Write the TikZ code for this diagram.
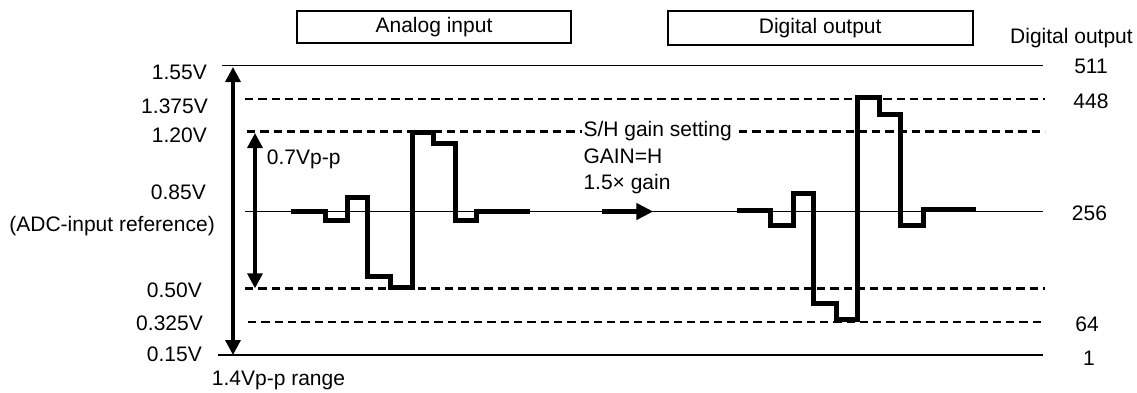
\documentclass[tikz,border=0pt]{standalone}
\usepackage{fontspec}
\setmainfont{Liberation Sans}
\usetikzlibrary{arrows.meta}
\begin{document}
\begin{tikzpicture}[x=1pt,y=-1pt,
  lbl/.style={font=\fontsize{21}{24}\selectfont, inner sep=0pt},
  solidline/.style={line width=1.5pt},
  refline/.style={line width=1.1pt},
  dashline/.style={line width=2.6pt, dash pattern=on 8.3pt off 5pt},
  wave/.style={line width=5pt, line join=miter, line cap=butt},
  dblarrow/.style={line width=3.3pt, {Triangle[width=15pt,length=15pt]}-{Triangle[width=15pt,length=15pt]}},
  gainarrow/.style={line width=4.8pt, -{Triangle[width=16pt,length=17pt]}},
  titlebox/.style={draw, line width=2.2pt, font=\fontsize{21}{24}\selectfont, inner sep=0pt}
]
\useasboundingbox (0,0) rectangle (1137,392);

% title boxes
\node[titlebox, minimum width=274pt, minimum height=32.6pt] (analog) at (434,27) {Analog input};
\node[titlebox, minimum width=305pt, minimum height=34pt] (digital) at (820.2,28) {Digital output};
\node[lbl, anchor=base west] (dighdr) at (1010,43.3) {Digital output};

% level lines
\coordinate (a155) at (222,65.5);  \coordinate (b155) at (1043,65.5);
\coordinate (a1375) at (245,99);   \coordinate (b1375) at (1045,99);
\coordinate (a120) at (247,131.7); \coordinate (b120) at (1045,131.7);
\coordinate (a085) at (245,211.5); \coordinate (b085) at (1043,211.5);
\coordinate (a050) at (245,288.3); \coordinate (b050) at (1045,288.3);
\coordinate (a0325) at (248,322);  \coordinate (b0325) at (1045,322);
\coordinate (a015) at (218,355);   \coordinate (b015) at (1043,355);

\draw[solidline] (a155) -- (b155);
\draw[dashline] (a1375) -- (b1375);
\draw[dashline] (a120) -- (b120);
\draw[refline] (a085) -- (b085);
\draw[dashline] (a050) -- (b050);
\draw[dashline] (a0325) -- (b0325);
\draw[solidline] (a015) -- (b015);

% left labels
\node[lbl, anchor=base east] (v155) at (207,79.3) {1.55V};
\node[lbl, anchor=base east] (v1375) at (208,113.3) {1.375V};
\node[lbl, anchor=base east] (v120) at (207,142.3) {1.20V};
\node[lbl, anchor=base east] (v085) at (206,199.3) {0.85V};
\node[lbl, anchor=base east] (vref) at (215,231.3) {(ADC-input reference)};
\node[lbl, anchor=base east] (v050) at (202,297.3) {0.50V};
\node[lbl, anchor=base east] (v0325) at (203,330) {0.325V};
\node[lbl, anchor=base east] (v015) at (202,361.7) {0.15V};
\node[lbl, anchor=base west] (range) at (211.7,385) {1.4Vp-p range};

% right labels
\node[lbl, anchor=base] (d511) at (1091,73.3) {511};
\node[lbl, anchor=base] (d448) at (1091,108.3) {448};
\node[lbl, anchor=base] (d256) at (1089.5,220) {256};
\node[lbl, anchor=base] (d64) at (1087,331.7) {64};
\node[lbl, anchor=base] (d1) at (1089,365) {1};

% range arrows
\coordinate (bigtop) at (233,67);  \coordinate (bigbot) at (233,355);
\coordinate (smtop) at (255,133);  \coordinate (smbot) at (255,288.3);
\draw[dblarrow] (bigtop) -- (bigbot);
\draw[dblarrow] (smtop) -- (smbot);
\node[lbl, anchor=base west] (vpp) at (266.7,164) {0.7Vp-p};

% gain text and arrow
\node[lbl, fill=white, inner sep=2pt, anchor=base west] (sh) at (581.3,136.7) {S/H gain setting};
\node[lbl, anchor=base west] (gainh) at (583.3,163.3) {GAIN=H};
\node[lbl, anchor=base west] (gainx) at (583.3,189.3) {1.5× gain};
\coordinate (ga) at (601.7,211.5); \coordinate (gb) at (653.3,211.5);
\draw[gainarrow] (ga) -- (gb);

% analog waveform
\draw[wave] (290.7,211) -- (325.7,211) -- (325.7,220.7) -- (347.7,220.7) -- (347.7,197.7)
  -- (367.7,197.7) -- (367.7,276.7) -- (390,276.7) -- (390,287.7) -- (412.7,287.7)
  -- (412.7,132.5) -- (433.3,132.5) -- (433.3,143.3) -- (455,143.3) -- (455,220.7)
  -- (476.7,220.7) -- (476.7,211) -- (530,211);

% digital waveform
\draw[wave] (736.7,210) -- (770.7,210) -- (770.7,225.7) -- (793.5,225.7) -- (793.5,193.7)
  -- (813.3,193.7) -- (813.3,303.7) -- (836.7,303.7) -- (836.7,319.7) -- (857.3,319.7)
  -- (857.3,97.8) -- (879,97.8) -- (879,114.5) -- (900.7,114.5) -- (900.7,225.7)
  -- (923.2,225.7) -- (923.2,209.5) -- (976,209.5);
\end{tikzpicture}
\end{document}
